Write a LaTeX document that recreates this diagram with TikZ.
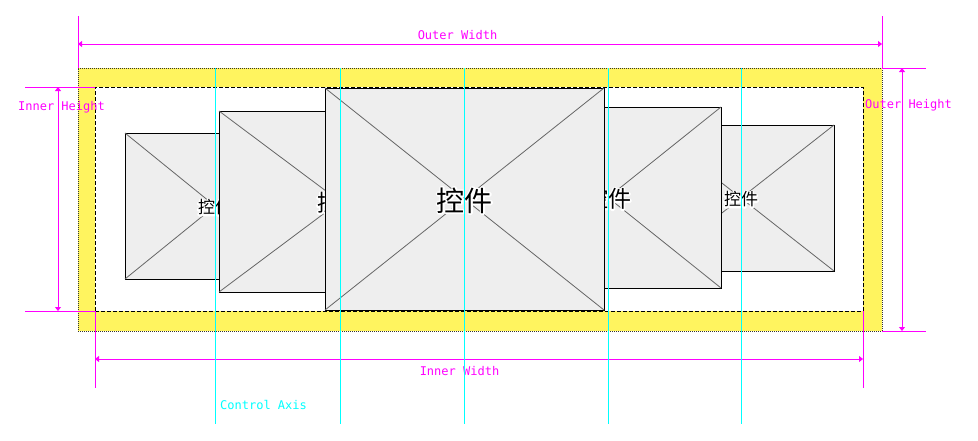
\documentclass[tikz,border=0pt]{standalone}
\usepackage{fontspec}
\setmonofont{DejaVu Sans Mono}
\newfontfamily\cjk{Noto Sans CJK SC}
\usetikzlibrary{arrows.meta}

\definecolor{frameyellow}{HTML}{FFF45F}
\definecolor{ctrlgray}{HTML}{EEEEEE}
\definecolor{dimmag}{HTML}{FF00FF}
\definecolor{axiscyan}{HTML}{00FFFF}

% white stroked copy under the text, as a halo
\newcommand{\halotext}[1]{\leavevmode\rlap{\special{pdf:code q 1 1 1 RG 1 1 1 rg 3.2 w 1 j 2 Tr}#1\special{pdf:code 0 Tr Q}}#1}

\tikzset{
  ctrlbox/.style={draw=black, fill=ctrlgray, line width=0.9pt, inner sep=0pt, outer sep=0pt},
  diagline/.style={draw=black!60, line width=0.8pt},
  dimline/.style={draw=dimmag, line width=0.9pt},
  dimarrow/.style={dimline, {Triangle[length=4pt,width=6pt]}-{Triangle[length=4pt,width=6pt]}},
  dimlabel/.style={text=dimmag, font=\ttfamily\fontsize{12}{14}\selectfont, inner sep=0pt},
  axisline/.style={draw=axiscyan, line width=0.9pt},
}

\begin{document}
\begin{tikzpicture}[x=1pt, y=-1pt]
    \useasboundingbox (0,0) rectangle (978,440);

    % frames
    \node[draw=black!80, fill=frameyellow, dash pattern=on 1pt off 1pt, line width=0.7pt,
          inner sep=0pt, outer sep=0pt, minimum width=804pt, minimum height=263pt] (outer) at (480,199.5) {};
    \node[draw=black, fill=white, dash pattern=on 4pt off 2pt, line width=0.8pt,
          inner sep=0pt, outer sep=0pt, minimum width=768pt, minimum height=224pt] (inner) at (479,199) {};

    % controls, back to front
    \foreach \n/\x/\y/\w/\h/\fs in {b1/215/206/180/146/17, b5/741/198/186/146/17,
                                     b2/340/201.5/242/181/23, b4/608/197.5/226/181/23,
                                     b3/464.5/199/279/222/28}{
        \node[ctrlbox, minimum width=\w pt, minimum height=\h pt] (\n) at (\x,\y) {};
        \draw[diagline] (\n.north west) -- (\n.south east) (\n.north east) -- (\n.south west);
        \node[font=\cjk\fontsize{\fs}{\fs}\selectfont, inner sep=0pt] (\n-text) at ([yshift=-1.5pt]\n) {\halotext{控件}};
    }

    % outer width
    \draw[dimline] (outer.north west) -- ++(0,-52);
    \draw[dimline] (outer.north east) -- ++(0,-52);
    \draw[dimarrow] ([yshift=24pt]outer.north west) -- ([yshift=24pt]outer.north east);
    \node[dimlabel] (ow) at (457.5,35) {Outer Width};

    % outer height
    \draw[dimline] (outer.north east) -- ++(44,0);
    \draw[dimline] (outer.south east) -- ++(44,0);
    \draw[dimarrow] ([xshift=20pt]outer.north east) -- ([xshift=20pt]outer.south east);
    \node[dimlabel] (oh) at (908.5,105) {Outer Height};

    % inner height
    \draw[dimline] (inner.north west) -- ++(-70,0);
    \draw[dimline] (inner.south west) -- ++(-70,0);
    \draw[dimarrow] ([xshift=-37pt]inner.north west) -- ([xshift=-37pt]inner.south west);
    \node[dimlabel] (ih) at (61.5,107) {Inner Height};

    % inner width
    \draw[dimline] (inner.south west) -- ++(0,77);
    \draw[dimline] (inner.south east) -- ++(0,77);
    \draw[dimarrow] ([yshift=-48pt]inner.south west) -- ([yshift=-48pt]inner.south east);
    \node[dimlabel] (iw) at (459.5,371) {Inner Width};

    % control axes
    \coordinate (axisend) at (0,424);
    \foreach \n in {b1,b2,b3,b4,b5}
        \draw[axisline] (\n |- outer.north) -- (\n |- axisend);
    \node[dimlabel, text=axiscyan, anchor=west] (ca) at (220,405) {Control Axis};

\end{tikzpicture}
\end{document}
